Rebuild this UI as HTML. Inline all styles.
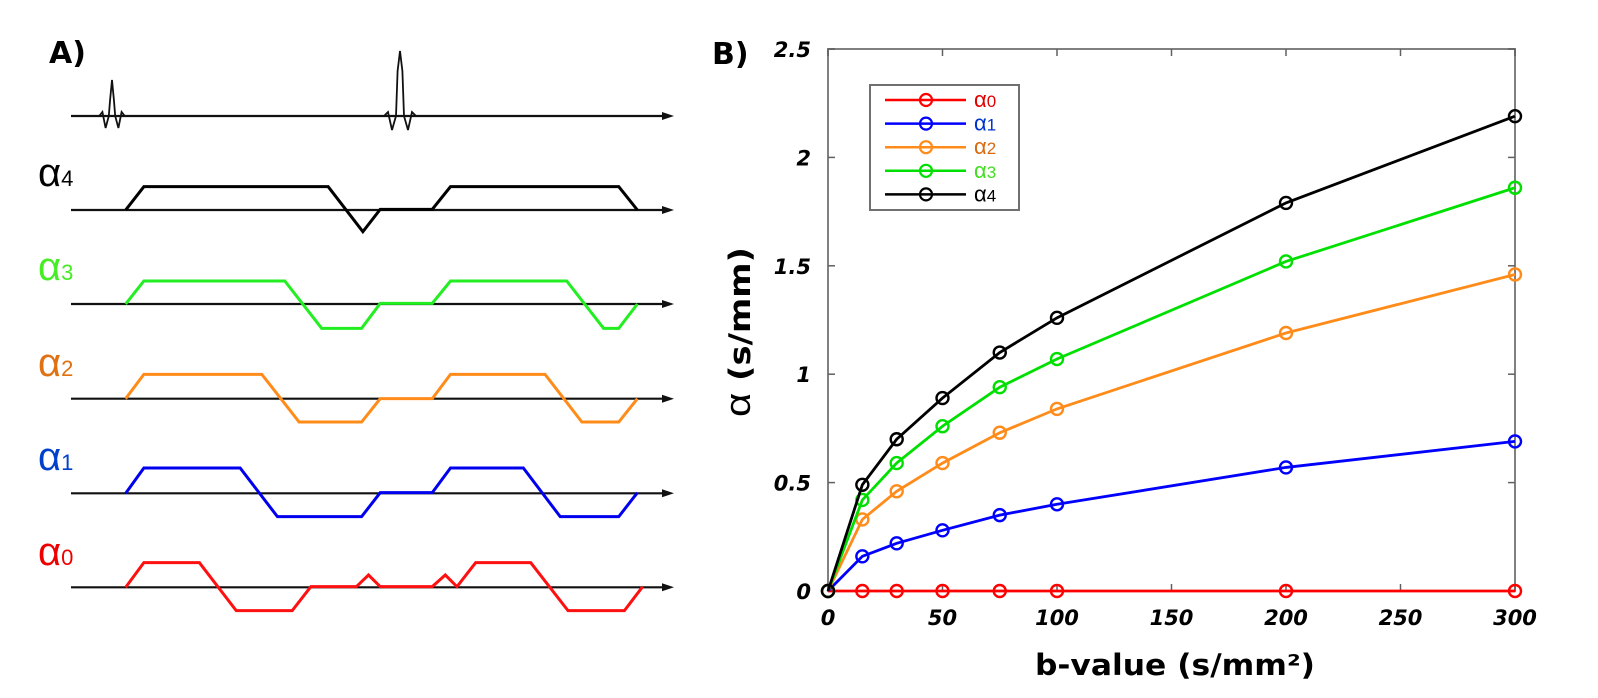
<!DOCTYPE html>
<html><head><meta charset="utf-8"><style>
body{margin:0;background:#fff;}
svg{display:block;font-family:"DejaVu Sans","Liberation Sans",sans-serif;}
</style></head><body>
<svg id="fig" width="1598" height="698" viewBox="0 0 1598 698" xmlns="http://www.w3.org/2000/svg">
<g id="panelA">
<text x="49" y="63" font-size="30" font-weight="bold" font-family="DejaVu Sans, sans-serif">A)</text>
</g>
<g id="panelB">
<text x="712" y="64" font-size="30" font-weight="bold">B)</text>
</g>
</svg>
<script>
// ---------- Panel B data ----------
const bValues=[0,15,30,50,75,100,200,300];
const alpha0=[0,0,0,0,0,0,0,0];
const alpha1=[0,0.16,0.22,0.28,0.35,0.40,0.57,0.69];
const alpha2=[0,0.33,0.46,0.59,0.73,0.84,1.19,1.46];
const alpha3=[0,0.42,0.59,0.76,0.94,1.07,1.52,1.86];
const alpha4=[0,0.49,0.70,0.89,1.10,1.26,1.79,2.19];
const seriesNames=["α0","α1","α2","α3","α4"];
const seriesColors=["#ff0000","#0000ff","#ff8c1a","#00e000","#000000"];
const labelColors=["#e00000","#0033cc","#d86a10","#44dd22","#000000"];
const xTicks=[0,50,100,150,200,250,300];
const yTicks=[0,0.5,1,1.5,2,2.5];
const yTickLabels=["0","0.5","1","1.5","2","2.5"];

const NS="http://www.w3.org/2000/svg";
function mk(parent,tag,attrs){const e=document.createElementNS(NS,tag);for(const k in attrs)e.setAttribute(k,attrs[k]);parent.appendChild(e);return e;}

const X0=828,X1=1515,Y0=591,Y1=49;
function xs(v){return X0+(v-0)/(300-0)*(X1-X0);}
function ys(v){return Y0-(v-0)/(2.5-0)*(Y0-Y1);}

const B=document.getElementById('panelB');
let fr=mk(B,'rect',{x:X0,y:Y1,width:X1-X0,height:Y0-Y1,fill:'none',stroke:'#808080','stroke-width':2});


xTicks.forEach(t=>{
  const x=xs(t);
  let a=mk(B,'line',{x1:x,y1:Y0,x2:x,y2:Y0-7,stroke:'#606060','stroke-width':1.5});
  
  
  let b=mk(B,'line',{x1:x,y1:Y1,x2:x,y2:Y1+7,stroke:'#606060','stroke-width':1.5});
  
  
  let l=mk(B,'text',{x:x,y:625,'text-anchor':'middle','font-size':21,'font-weight':'bold','font-style':'italic'});
  l.textContent=String(t);
  
  
});
yTicks.forEach((t,i)=>{
  const y=ys(t);
  let a=mk(B,'line',{x1:X0,y1:y,x2:X0+7,y2:y,stroke:'#606060','stroke-width':1.5});
  
  
  let b=mk(B,'line',{x1:X1,y1:y,x2:X1-7,y2:y,stroke:'#606060','stroke-width':1.5});
  
  
  let l=mk(B,'text',{x:811,y:y+8,'text-anchor':'end','font-size':21,'font-weight':'bold','font-style':'italic'});
  l.textContent=yTickLabels[i];
  
  
});
let xt=mk(B,'text',{x:1175,y:675,'text-anchor':'middle','font-size':29,'font-weight':'bold',textLength:280,lengthAdjust:'spacingAndGlyphs'});
xt.textContent="b-value (s/mm²)";


let yt=mk(B,'text',{x:0,y:0,'text-anchor':'middle','font-size':29,'font-weight':'bold',transform:'translate(750,332) rotate(-90)',textLength:170,lengthAdjust:'spacingAndGlyphs'});
const ya=mk(yt,'tspan',{'font-size':36,'font-weight':'normal','font-family':'Liberation Sans, sans-serif'}); ya.textContent='α';
const yb=mk(yt,'tspan',{}); yb.textContent=' (s/mm)';



const allSeries=[alpha0,alpha1,alpha2,alpha3,alpha4];
allSeries.forEach((vals,si)=>{
  const g=mk(B,'g',{});
  
  
  const pts=vals.map((v,i)=>xs(bValues[i])+','+ys(v)).join(' ');
  let pl=mk(g,'polyline',{points:pts,fill:'none',stroke:seriesColors[si],'stroke-width':2.8});
  
  
  vals.forEach((v,i)=>{
    let c=mk(g,'circle',{cx:xs(bValues[i]),cy:ys(v),r:6,fill:'none',stroke:seriesColors[si],'stroke-width':2.4});
    
    
  });
});
// legend
const L=mk(B,'g',{});


mk(L,'rect',{x:870,y:85,width:149,height:125,fill:'#fff',stroke:'#707070','stroke-width':2});
seriesNames.forEach((n,i)=>{
  const y=100+i*23.6;
  const g=mk(L,'g',{});
  
  
  mk(g,'line',{x1:885,y1:y,x2:966,y2:y,stroke:seriesColors[i],'stroke-width':2.5});
  mk(g,'circle',{cx:926,cy:y,r:6,fill:'none',stroke:seriesColors[i],'stroke-width':2.2});
  const t=mk(g,'text',{x:974,y:y+7,'font-size':22,fill:labelColors[i],'font-family':'Liberation Sans, sans-serif'});
  const a=mk(t,'tspan',{}); a.textContent='α';
  const d=mk(t,'tspan',{'font-size':17}); d.textContent=n.slice(1);
});

// ---------- Panel A waveforms ----------
const A=document.getElementById('panelA');
const px=p=>71+(p-162)*0.4337;
function axisLine(y,name){
  let l=mk(A,'line',{x1:71,y1:y,x2:664,y2:y,stroke:'#111','stroke-width':2.2});
  
  
  let ar=mk(A,'polygon',{points:`674,${y} 662,${y-4} 662,${y+4}`,fill:'#111'});
  
  
}
axisLine(116,'rf-axis');
function pulse(cx,top,lobe,w){
  return `${cx-4*w},116 ${cx-3*w},${116-4} ${cx-2*w},${116+lobe} ${cx-w},116 ${cx-w*0.6},${top+20} ${cx},${top} ${cx+w*0.6},${top+20} ${cx+w},116 ${cx+2*w},${116+lobe} ${cx+3*w},${116-4} ${cx+4*w},116`;
}
let p1=mk(A,'polyline',{points:pulse(112,80,12,3.2),fill:'none',stroke:'#111','stroke-width':1.8});


let p2=mk(A,'polyline',{points:pulse(400,51,14,4),fill:'none',stroke:'#111','stroke-width':1.8});



const waves=[
 {name:'alpha4',color:'#000000',label:'4',lc:'#000',base:210,yl:186,pts:[[288,630],[330,560],[755,560],[835,695],[875,628],[995,628],[1037,560],[1425,560],[1468,630]],sc:1/3,yo:0},
 {name:'alpha3',color:'#22ee22',label:'3',lc:'#44ee22',base:304,yl:280,pts:[[288,912],[330,843],[655,843],[740,985],[832,985],[875,910],[995,910],[1037,843],[1305,843],[1390,985],[1425,985],[1468,912]],sc:1/3,yo:0},
 {name:'alpha2',color:'#ff8c1a',label:'2',lc:'#e07010',base:398.7,yl:376,pts:[[288,176],[330,103],[602,103],[688,246],[832,246],[875,176],[995,176],[1037,103],[1255,103],[1340,246],[1425,246],[1468,176]],sc:1/3,yo:340},
 {name:'alpha1',color:'#0000ee',label:'1',lc:'#0040cc',base:493.3,yl:470,pts:[[288,460],[330,384],[552,384],[638,530],[832,530],[875,458],[995,458],[1037,384],[1205,384],[1290,530],[1425,530],[1468,458]],sc:1/3,yo:340},
 {name:'alpha0',color:'#ff1010',label:'0',lc:'#ee0000',base:587.3,yl:565,pts:[[288,742],[330,668],[458,668],[543,812],[672,812],[715,740],[820,740],[848,705],[875,740],[995,740],[1025,705],[1052,740],[1095,668],[1222,668],[1308,812],[1438,812],[1480,740]],sc:1/3,yo:340}
];
waves.forEach(w=>{
  axisLine(w.base,w.name+'-axis');
  const pts=w.pts.map(p=>px(p[0])+','+(w.yo+p[1]*w.sc)).join(' ');
  let pl=mk(A,'polyline',{points:pts,fill:'none',stroke:w.color,'stroke-width':3,'stroke-linejoin':'miter'});
  
  
  let t=mk(A,'text',{x:38,y:w.yl,'font-size':40,fill:w.lc,'font-family':'Liberation Sans, sans-serif'});
  const a=mk(t,'tspan',{}); a.textContent='α';
  const d=mk(t,'tspan',{'font-size':22}); d.textContent=w.label;
  
  
});
</script>
</body></html>
